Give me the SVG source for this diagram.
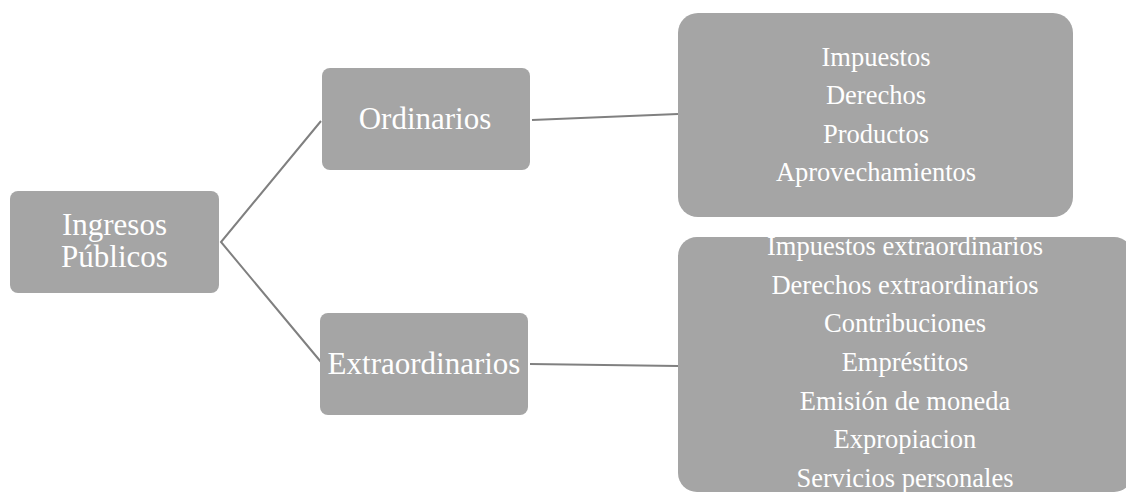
<svg xmlns="http://www.w3.org/2000/svg" width="1126" height="492" viewBox="0 0 1126 492">
<style>
.box{fill:#a5a5a5;}
.t{font-family:"Liberation Serif","Times New Roman",serif;fill:#ffffff;text-anchor:middle;}
.big{font-size:31px;}
.sm{font-size:26.5px;}
.c{stroke:#808080;stroke-width:2;fill:none;}
</style>
<rect width="1126" height="492" fill="#ffffff"/>
<g id="connectors">
<polyline class="c" points="321,121 221,242 321,362"/>
<line class="c" x1="532" y1="120" x2="678" y2="114"/>
<line class="c" x1="530" y1="364" x2="678" y2="366"/>
</g>
<g id="ingresos">
<rect class="box" x="10" y="191" width="209" height="102" rx="8"/>
<text class="t big" x="114.5" y="235">Ingresos</text>
<text class="t big" x="114.5" y="267">Públicos</text>
</g>
<g id="ordinarios">
<rect class="box" x="322" y="68" width="208" height="102" rx="8"/>
<text class="t big" x="425" y="129">Ordinarios</text>
</g>
<g id="extraordinarios">
<rect class="box" x="320" y="313" width="208" height="102" rx="8"/>
<text class="t big" x="424" y="374">Extraordinarios</text>
</g>
<g id="ordinarios-lista">
<rect class="box" x="678" y="13" width="395" height="204" rx="20"/>
<text class="t sm" x="876" y="66">Impuestos</text>
<text class="t sm" x="876" y="104">Derechos</text>
<text class="t sm" x="876" y="143">Productos</text>
<text class="t sm" x="876" y="181">Aprovechamientos</text>
</g>
<g id="extraordinarios-lista">
<rect class="box" x="678" y="237" width="455" height="255" rx="19"/>
<text class="t sm" x="905" y="255">Impuestos extraordinarios</text>
<text class="t sm" x="905" y="294">Derechos extraordinarios</text>
<text class="t sm" x="905" y="332">Contribuciones</text>
<text class="t sm" x="905" y="371">Empréstitos</text>
<text class="t sm" x="905" y="410">Emisión de moneda</text>
<text class="t sm" x="905" y="448">Expropiacion</text>
<text class="t sm" x="905" y="487">Servicios personales</text>
</g>
</svg>
